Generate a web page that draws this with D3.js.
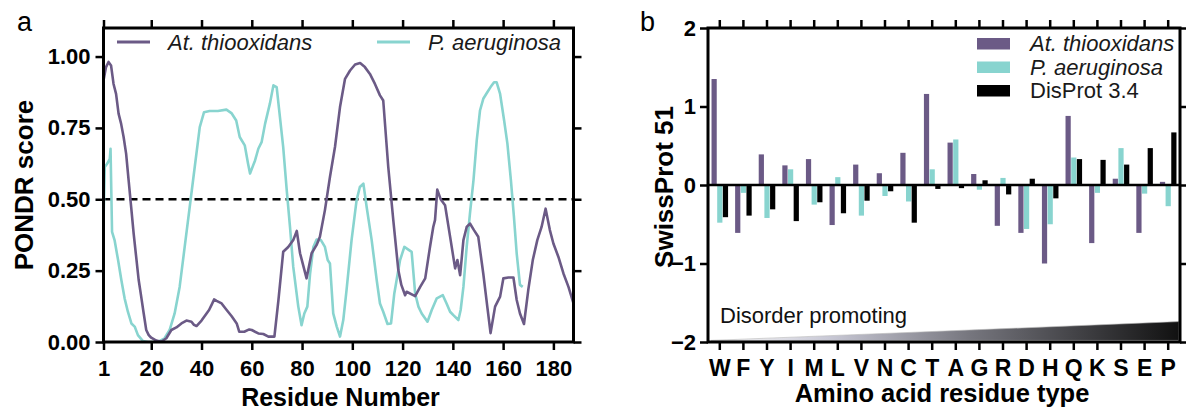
<!DOCTYPE html>
<html>
<head>
<meta charset="utf-8">
<script src="https://cdn.jsdelivr.net/npm/d3@7"></script>
<style>
  body { margin: 0; background: #fff; }
  svg { display: block; font-family: "Liberation Sans", Arial, sans-serif; }
</style>
</head>
<body>
<svg id="chart" width="1186" height="413"></svg>
<script>
// ---- panel a: PONDR score along the sequence ----
const thioResidue = [1, 2, 3, 4, 5, 6, 7, 8, 9, 10, 11, 12, 13, 14, 15, 16, 17, 18, 19, 20, 22, 24, 26, 28, 30, 32, 34, 36, 37, 38, 40, 42, 43, 44, 45, 46, 48, 50, 52, 54, 55, 57, 59, 60, 62.6, 64.6, 66.6, 69, 70.6, 72.5, 74.5, 76.5, 77.9, 79.2, 81.8, 83.8, 85.8, 87.1, 89.1, 91.1, 93.1, 95.1, 97.1, 99.1, 101.1, 103.1, 105, 107, 109, 111, 112.3, 114.3, 116.3, 118.3, 119.5, 121, 121.6, 125, 127, 129, 130.9, 132.2, 132.9, 133.8, 135.2, 136.9, 138.9, 140.9, 141.8, 142.9, 144.2, 145.5, 146.8, 148.4, 150.1, 152.1, 153.7, 155, 156.8, 158.8, 160.1, 162.1, 164.1, 165.4, 166.7, 168.3, 170, 171.8, 173.6, 175.3, 176.9, 178.6, 180, 182, 184, 186, 188];
const thioScore = [0.916, 0.963, 0.981, 0.969, 0.904, 0.869, 0.80, 0.765, 0.718, 0.66, 0.566, 0.473, 0.38, 0.298, 0.217, 0.159, 0.10, 0.042, 0.024, 0.015, 0.005, 0.001, 0.013, 0.042, 0.051, 0.065, 0.075, 0.071, 0.06, 0.056, 0.075, 0.10, 0.112, 0.13, 0.149, 0.144, 0.135, 0.112, 0.09, 0.065, 0.036, 0.036, 0.044, 0.042, 0.03, 0.028, 0.019, 0.019, 0.147, 0.316, 0.333, 0.357, 0.389, 0.311, 0.223, 0.311, 0.34, 0.369, 0.462, 0.578, 0.683, 0.823, 0.922, 0.951, 0.972, 0.977, 0.963, 0.939, 0.904, 0.864, 0.846, 0.613, 0.427, 0.252, 0.2, 0.164, 0.176, 0.161, 0.193, 0.223, 0.333, 0.403, 0.427, 0.534, 0.499, 0.479, 0.369, 0.258, 0.287, 0.234, 0.357, 0.403, 0.415, 0.392, 0.369, 0.24, 0.124, 0.031, 0.124, 0.159, 0.223, 0.226, 0.226, 0.147, 0.1, 0.063, 0.182, 0.287, 0.357, 0.403, 0.467, 0.392, 0.345, 0.298, 0.24, 0.193, 0.135];

const pseudoResidue = [1, 1.5, 2.5, 3.5, 3.8, 4.4, 5.4, 6.8, 8.1, 9.4, 10.7, 12.1, 13.4, 14.7, 16.7, 18.7, 22.7, 25.3, 27.3, 29.3, 31.3, 33.3, 35.3, 37.3, 39.3, 41, 43.2, 46.5, 49.9, 51.9, 53.8, 55.2, 57.2, 58.5, 59.3, 61.3, 62.6, 63.9, 65.3, 67.2, 68.6, 69.9, 71.2, 72.5, 73.9, 75.2, 76.5, 78.5, 79.8, 80.9, 82.1, 83.2, 84.5, 85.8, 87.5, 89.1, 90.2, 91.1, 92.4, 93.8, 95.1, 96.4, 97.7, 99.7, 101.7, 103, 104.4, 105.7, 107.7, 109.7, 111, 112.3, 114, 115.4, 116.7, 119, 120.7, 123.6, 125, 126.3, 127.6, 129.9, 131.6, 133.6, 136, 137.5, 138.9, 140.2, 142.2, 143.1, 144.2, 145.5, 146.8, 148.2, 149.5, 150.8, 152.1, 153.7, 155, 156.4, 157.4, 158.8, 160.4, 161.7, 163.1, 164.3, 165.4, 166.7, 167.8];
const pseudoScore = [0.421, 0.613, 0.625, 0.642, 0.677, 0.386, 0.357, 0.287, 0.217, 0.153, 0.106, 0.065, 0.054, 0.024, 0.003, 0, 0, 0.013, 0.042, 0.1, 0.193, 0.333, 0.473, 0.613, 0.753, 0.805, 0.809, 0.809, 0.814, 0.802, 0.776, 0.718, 0.689, 0.625, 0.59, 0.636, 0.677, 0.7, 0.765, 0.835, 0.899, 0.893, 0.788, 0.683, 0.532, 0.403, 0.263, 0.124, 0.059, 0.1, 0.124, 0.24, 0.333, 0.359, 0.357, 0.333, 0.287, 0.275, 0.1, 0.054, 0.019, 0.077, 0.182, 0.357, 0.497, 0.543, 0.555, 0.473, 0.357, 0.217, 0.135, 0.106, 0.063, 0.065, 0.17, 0.287, 0.333, 0.316, 0.17, 0.124, 0.1, 0.071, 0.112, 0.153, 0.164, 0.135, 0.106, 0.094, 0.077, 0.112, 0.193, 0.333, 0.45, 0.566, 0.706, 0.811, 0.852, 0.875, 0.893, 0.91, 0.91, 0.869, 0.776, 0.695, 0.566, 0.438, 0.31, 0.2, 0.193];

const residueTicks = [1, 20, 40, 60, 80, 100, 120, 140, 160, 180];
const pondrTicks = [0, 0.25, 0.5, 0.75, 1.0];
const disorderThreshold = 0.5;

// ---- panel b: amino acid composition ----
const aminoAcids = ['W', 'F', 'Y', 'I', 'M', 'L', 'V', 'N', 'C', 'T', 'A', 'G', 'R', 'D', 'H', 'Q', 'K', 'S', 'E', 'P'];
const thioComp = [1.35, -0.61, 0.39, 0.25, 0.33, -0.51, 0.26, 0.15, 0.41, 1.16, 0.54, 0.14, -0.52, -0.61, -1.00, 0.88, -0.74, 0.08, -0.61, 0.04];
const pseudoComp = [-0.48, -0.10, -0.42, 0.20, -0.25, 0.10, -0.39, -0.14, -0.21, 0.20, 0.58, -0.06, 0.09, -0.56, -0.50, 0.35, -0.10, 0.47, -0.11, -0.27];
const disprotComp = [-0.41, -0.39, -0.31, -0.46, -0.22, -0.36, -0.20, -0.08, -0.48, -0.05, -0.04, 0.06, -0.12, 0.08, -0.17, 0.33, 0.32, 0.26, 0.47, 0.67];
const compTicks = [-2, -1, 0, 1, 2];

const seriesNames = ['At. thiooxidans', 'P. aeruginosa', 'DisProt 3.4'];

const PURPLE = '#6b5a86';
const CYAN = '#88d4cf';
const BLACK = '#000000';
const AXIS_W = 2.5;
const TICK = 8;

const svg = d3.select('#chart');

function styleAxis(g, fontSize) {
    g.select('.domain').remove();
    g.selectAll('.tick line').attr('stroke', '#000').attr('stroke-width', AXIS_W);
    g.selectAll('.tick text')
        .attr('fill', '#000')
        .style('font-size', fontSize + 'px')
        .style('font-weight', '700')
        .style('font-family', '"Liberation Sans", Arial, sans-serif');
}

// ================= panel a =================
const A = { left: 103.5, right: 573.5, top: 28, bottom: 342 };

const xA = d3.scaleLinear().domain([1, 188]).range([A.left, A.right]);
const yA = d3.scaleLinear().domain([0, 1.1]).range([A.bottom, A.top]);

svg.append('defs').append('clipPath').attr('id', 'clipA')
    .append('rect')
    .attr('x', A.left).attr('y', A.top)
    .attr('width', A.right - A.left).attr('height', A.bottom - A.top);

svg.append('line')
    .attr('x1', A.left).attr('x2', A.right)
    .attr('y1', yA(disorderThreshold)).attr('y2', yA(disorderThreshold))
    .attr('stroke', '#000')
    .attr('stroke-width', 2.6)
    .attr('stroke-dasharray', '8,5');

const lineA = d3.line().x(d => xA(d[0])).y(d => yA(d[1]));

const linesA = svg.append('g').attr('clip-path', 'url(#clipA)');
linesA.append('path')
    .datum(pseudoResidue.map((r, i) => [r, pseudoScore[i]]))
    .attr('d', lineA)
    .attr('fill', 'none')
    .attr('stroke', CYAN)
    .attr('stroke-width', 2.6)
    .attr('stroke-linejoin', 'round');
linesA.append('path')
    .datum(thioResidue.map((r, i) => [r, thioScore[i]]))
    .attr('d', lineA)
    .attr('fill', 'none')
    .attr('stroke', PURPLE)
    .attr('stroke-width', 2.6)
    .attr('stroke-linejoin', 'round');

svg.append('g').attr('transform', `translate(0,${A.bottom})`)
    .call(d3.axisBottom(xA).tickValues(residueTicks).tickSize(TICK).tickSizeOuter(0).tickPadding(10))
    .call(g => styleAxis(g, 22));
svg.append('g').attr('transform', `translate(0,${A.top})`)
    .call(d3.axisTop(xA).tickValues(residueTicks).tickSize(TICK).tickSizeOuter(0).tickFormat(''))
    .call(g => styleAxis(g, 22));
svg.append('g').attr('transform', `translate(${A.left},0)`)
    .call(d3.axisLeft(yA).tickValues(pondrTicks).tickSize(TICK).tickSizeOuter(0).tickPadding(5).tickFormat(d3.format('.2f')))
    .call(g => styleAxis(g, 22));
svg.append('g').attr('transform', `translate(${A.right},0)`)
    .call(d3.axisRight(yA).tickValues(pondrTicks).tickSize(TICK).tickSizeOuter(0).tickFormat(''))
    .call(g => styleAxis(g, 22));

svg.append('rect')
    .attr('x', A.left).attr('y', A.top)
    .attr('width', A.right - A.left).attr('height', A.bottom - A.top)
    .attr('fill', 'none').attr('stroke', '#000').attr('stroke-width', 3);

// legend a
const legendA = [
    { name: seriesNames[0], color: PURPLE, x: 117, tx: 168 },
    { name: seriesNames[1], color: CYAN, x: 377, tx: 428 }
];
legendA.forEach(d => {
    svg.append('line')
        .attr('x1', d.x).attr('x2', d.x + 33)
        .attr('y1', 42).attr('y2', 42)
        .attr('stroke', d.color).attr('stroke-width', 3);
    svg.append('text')
        .attr('x', d.tx).attr('y', 50)
        .style('font-size', '22px')
        .style('font-style', 'italic')
        .attr('fill', '#1a1a1a')
        .text(d.name);
});

svg.append('text')
    .attr('transform', `translate(33,${(A.top + A.bottom) / 2}) rotate(-90)`)
    .attr('text-anchor', 'middle')
    .style('font-size', '26px').style('font-weight', '700')
    .text('PONDR score');

svg.append('text')
    .attr('x', (A.left + A.right) / 2 + 2).attr('y', 406)
    .attr('text-anchor', 'middle')
    .style('font-size', '25px').style('font-weight', '700')
    .text('Residue Number');

svg.append('text')
    .attr('x', 17).attr('y', 31)
    .style('font-size', '27px')
    .text('a');

// ================= panel b =================
const B = { left: 708, right: 1180, top: 28, bottom: 342 };

const xB = d3.scaleBand().domain(aminoAcids).range([B.left, B.right]).paddingInner(0.26).paddingOuter(0.13);
const xInner = d3.scaleBand().domain(seriesNames).range([0, xB.bandwidth()]).padding(0.08);
const yB = d3.scaleLinear().domain([-2, 2]).range([B.bottom, B.top]);
const colorB = d3.scaleOrdinal().domain(seriesNames).range([PURPLE, CYAN, BLACK]);

const compRows = aminoAcids.map((aa, i) => ({
    aa,
    values: [thioComp[i], pseudoComp[i], disprotComp[i]].map((v, j) => ({ series: seriesNames[j], value: v }))
}));

// gradient wedge
const grad = svg.select('defs').append('linearGradient')
    .attr('id', 'wedgeGrad')
    .attr('x1', '0%').attr('x2', '100%').attr('y1', '0%').attr('y2', '0%');
grad.append('stop').attr('offset', '0%').attr('stop-color', '#ffffff');
grad.append('stop').attr('offset', '25%').attr('stop-color', '#c9c9d6');
grad.append('stop').attr('offset', '55%').attr('stop-color', '#77777f');
grad.append('stop').attr('offset', '100%').attr('stop-color', '#111111');

const wedgeL = xB('W');
const wedgeR = xB('P') + xB.bandwidth() + 2;
svg.append('path')
    .attr('d', `M${wedgeL},${yB(-1.98)} L${wedgeR},${yB(-1.98)} L${wedgeR},${yB(-1.74)} Z`)
    .attr('fill', 'url(#wedgeGrad)')
    .attr('stroke', '#bbb')
    .attr('stroke-width', 0.6);

svg.append('text')
    .attr('x', 720).attr('y', 323)
    .style('font-size', '22px')
    .attr('fill', '#111')
    .text('Disorder promoting');

const groups = svg.append('g').selectAll('g')
    .data(compRows)
    .join('g')
    .attr('transform', d => `translate(${xB(d.aa)},0)`);

groups.selectAll('rect')
    .data(d => d.values)
    .join('rect')
    .attr('x', d => xInner(d.series))
    .attr('width', xInner.bandwidth())
    .attr('y', d => yB(Math.max(0, d.value)))
    .attr('height', d => Math.abs(yB(d.value) - yB(0)))
    .attr('fill', d => colorB(d.series));

svg.append('line')
    .attr('x1', B.left).attr('x2', B.right)
    .attr('y1', yB(0)).attr('y2', yB(0))
    .attr('stroke', '#000').attr('stroke-width', 2.5);

svg.append('g').attr('transform', `translate(0,${B.bottom})`)
    .call(d3.axisBottom(xB).tickSize(TICK).tickSizeOuter(0).tickPadding(10))
    .call(g => styleAxis(g, 23));
svg.append('g').attr('transform', `translate(0,${B.top})`)
    .call(d3.axisTop(xB).tickSize(TICK).tickSizeOuter(0).tickFormat(''))
    .call(g => styleAxis(g, 22));
svg.append('g').attr('transform', `translate(${B.left},0)`)
    .call(d3.axisLeft(yB).tickValues(compTicks).tickSize(TICK).tickSizeOuter(0).tickPadding(4).tickFormat(d3.format('d')))
    .call(g => styleAxis(g, 22));
svg.append('g').attr('transform', `translate(${B.right},0)`)
    .call(d3.axisRight(yB).tickValues(compTicks).tickSize(TICK).tickSizeOuter(0).tickFormat(''))
    .call(g => styleAxis(g, 22));

svg.append('rect')
    .attr('x', B.left).attr('y', B.top)
    .attr('width', B.right - B.left).attr('height', B.bottom - B.top)
    .attr('fill', 'none').attr('stroke', '#000').attr('stroke-width', 3);

// legend b
const legendB = svg.append('g').selectAll('g')
    .data(seriesNames)
    .join('g')
    .attr('transform', (d, i) => `translate(977,${38 + i * 23.5})`);
legendB.append('rect')
    .attr('width', 33).attr('height', 11.5)
    .attr('fill', d => colorB(d));
legendB.append('text')
    .attr('x', 53).attr('y', 13)
    .style('font-size', '22px')
    .style('font-style', d => d === 'DisProt 3.4' ? 'normal' : 'italic')
    .attr('fill', '#1a1a1a')
    .text(d => d);

svg.append('text')
    .attr('transform', `translate(673,${(B.top + B.bottom) / 2 + 2}) rotate(-90)`)
    .attr('text-anchor', 'middle')
    .style('font-size', '26px').style('font-weight', '700')
    .text('SwissProt 51');

svg.append('text')
    .attr('x', (B.left + B.right) / 2 - 2).attr('y', 402)
    .attr('text-anchor', 'middle')
    .style('font-size', '25.5px').style('font-weight', '700')
    .text('Amino acid residue type');

svg.append('text')
    .attr('x', 640).attr('y', 31)
    .style('font-size', '27px')
    .text('b');
</script>
</body>
</html>
